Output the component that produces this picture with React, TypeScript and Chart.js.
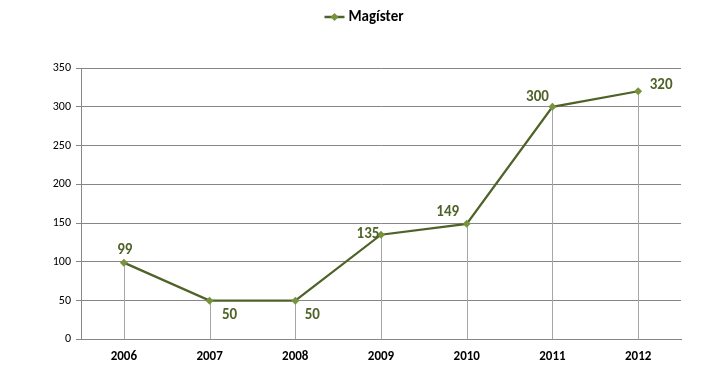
import React, { useEffect, useRef } from "react";
import { Chart, registerables } from "chart.js";

Chart.register(...registerables);

const categories = ["2006", "2007", "2008", "2009", "2010", "2011", "2012"];
const magisterValues = [99, 50, 50, 135, 149, 300, 320];
const seriesLabel = "Magíster";
const yTicksMax = 350;
const yTickStep = 50;
// label placement relative to each point (dx, dy)
const labelOffsets: [number, number][] = [
  [1, -12],
  [20, 15],
  [17, 15],
  [-13, 0],
  [-19, -12],
  [-15, -10],
  [23, -6],
];

const FONT = "Carlito, Lato, 'Liberation Sans', sans-serif";
const LINE = "#4F6228";
const MARK = "#77933C";
const GRID = "#868686";

const dropLines = {
  id: "dropLines",
  beforeDatasetsDraw(chart: any) {
    const { ctx } = chart;
    const meta = chart.getDatasetMeta(0);
    const bottom = chart.scales.y.getPixelForValue(0);
    ctx.save();
    ctx.strokeStyle = "#A6A6A6";
    ctx.lineWidth = 1;
    meta.data.forEach((p: any) => {
      const x = Math.round(p.x) + 0.5;
      ctx.beginPath();
      ctx.moveTo(x, p.y);
      ctx.lineTo(x, bottom);
      ctx.stroke();
    });
    ctx.restore();
  },
};

const valueLabels = {
  id: "valueLabels",
  afterDatasetsDraw(chart: any) {
    const { ctx } = chart;
    const meta = chart.getDatasetMeta(0);
    const data = chart.data.datasets[0].data;
    ctx.save();
    ctx.font = `bold 15px ${FONT}`;
    ctx.fillStyle = LINE;
    ctx.textAlign = "center";
    ctx.textBaseline = "middle";
    meta.data.forEach((p: any, i: number) => {
      const [dx, dy] = labelOffsets[i];
      ctx.fillText(String(data[i]), p.x + dx, p.y + dy);
    });
    ctx.restore();
  },
};

const customLegend = {
  id: "customLegend",
  afterDraw(chart: any) {
    const { ctx } = chart;
    ctx.save();
    ctx.font = `bold 15px ${FONT}`;
    const tw = ctx.measureText(seriesLabel).width;
    const lineW = 20;
    const gap = 4;
    const total = lineW + gap + tw;
    const x0 = chart.width / 2 - total / 2 + 6;
    const y = 17;
    ctx.strokeStyle = LINE;
    ctx.lineWidth = 2.5;
    ctx.beginPath();
    ctx.moveTo(x0, y);
    ctx.lineTo(x0 + lineW, y);
    ctx.stroke();
    const cx = x0 + lineW / 2;
    ctx.fillStyle = MARK;
    ctx.beginPath();
    ctx.moveTo(cx, y - 4);
    ctx.lineTo(cx + 4, y);
    ctx.lineTo(cx, y + 4);
    ctx.lineTo(cx - 4, y);
    ctx.closePath();
    ctx.fill();
    ctx.fillStyle = "#000";
    ctx.textAlign = "left";
    ctx.textBaseline = "middle";
    ctx.fillText(seriesLabel, x0 + lineW + gap, y);
    ctx.restore();
  },
};

export default function App() {
  const ref = useRef<HTMLCanvasElement>(null);
  useEffect(() => {
    document.body.style.margin = "0";
    const chart = new Chart(ref.current!, {
      type: "line",
      data: {
        labels: categories,
        datasets: [
          {
            label: seriesLabel,
            data: magisterValues,
            borderColor: LINE,
            borderWidth: 2.25,
            pointStyle: "rectRot",
            pointRadius: 4,
            pointBackgroundColor: MARK,
            pointBorderColor: MARK,
            pointBorderWidth: 0,
            tension: 0,
          },
        ],
      },
      options: {
        animation: false,
        responsive: false,
        layout: { padding: { top: 68, right: 35, left: 0, bottom: 9 } },
        plugins: {
          legend: { display: false },
          tooltip: { enabled: false },
        },
        scales: {
          x: {
            offset: true,
            grid: { display: false, drawTicks: false },
            border: { display: true, color: GRID, width: 1 },
            ticks: {
              color: "#000",
              font: { family: FONT, size: 13, weight: "bold" },
              padding: 10,
            },
          },
          y: {
            min: 0,
            max: yTicksMax,
            afterFit(s: any) {
              s.width = 81;
            },
            ticks: {
              stepSize: yTickStep,
              color: "#000",
              font: { family: FONT, size: 12 },
              padding: 5,
            },
            grid: { color: GRID, tickLength: 5, drawTicks: true },
            border: { display: true, color: GRID, width: 1 },
          },
        },
      },
      plugins: [dropLines, valueLabels, customLegend],
    });
    return () => chart.destroy();
  }, []);
  return <canvas ref={ref} width={716} height={384} style={{ display: "block" }} />;
}
